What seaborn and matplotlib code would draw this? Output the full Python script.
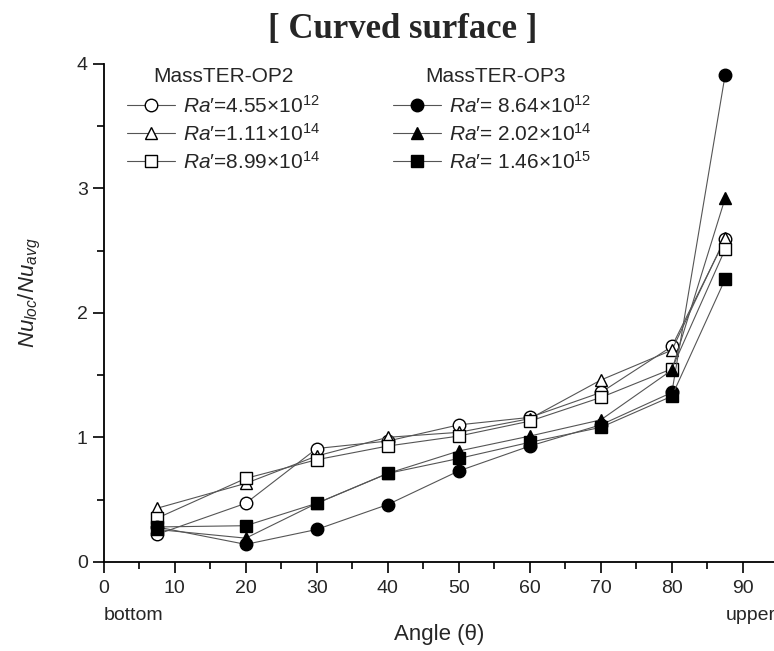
import numpy as np
import pandas as pd
import matplotlib
matplotlib.use("Agg")
import matplotlib.pyplot as plt
import seaborn as sns
from matplotlib.ticker import MultipleLocator

sns.set_style("ticks")
plt.rcParams['font.family'] = ['Liberation Sans', 'DejaVu Sans']
plt.rcParams['mathtext.fontset'] = 'custom'
plt.rcParams['mathtext.rm'] = 'Liberation Sans'
plt.rcParams['mathtext.it'] = 'Liberation Sans:italic'
plt.rcParams['mathtext.bf'] = 'Liberation Sans:bold'

# angle positions
angle = [7.5, 20, 30, 40, 50, 60, 70, 80, 87.5]

# MassTER-OP2
op2_c = [0.22, 0.47, 0.91, 0.97, 1.10, 1.16, 1.36, 1.73, 2.59]
op2_t = [0.43, 0.63, 0.85, 1.00, 1.04, 1.15, 1.46, 1.70, 2.60]
op2_s = [0.35, 0.67, 0.82, 0.93, 1.01, 1.13, 1.32, 1.55, 2.51]
# MassTER-OP3
op3_c = [0.28, 0.14, 0.26, 0.46, 0.73, 0.93, 1.10, 1.36, 3.91]
op3_t = [0.26, 0.19, 0.47, 0.71, 0.89, 1.01, 1.14, 1.54, 2.92]
op3_s = [0.28, 0.29, 0.47, 0.71, 0.83, 0.96, 1.08, 1.33, 2.27]

labels_op2 = [r"$Ra$′=4.55$\times$10$^{12}$", r"$Ra$′=1.11$\times$10$^{14}$", r"$Ra$′=8.99$\times$10$^{14}$"]
labels_op3 = [r"$Ra$′= 8.64$\times$10$^{12}$", r"$Ra$′= 2.02$\times$10$^{14}$", r"$Ra$′= 1.46$\times$10$^{15}$"]

fig = plt.figure(figsize=(7.74, 6.51), dpi=100)
ax = fig.add_axes([0.134, 0.137, 0.868, 0.765])

series = [
    (op2_c, 'o', 'white', labels_op2[0]),
    (op2_t, '^', 'white', labels_op2[1]),
    (op2_s, 's', 'white', labels_op2[2]),
    (op3_c, 'o', 'black', labels_op3[0]),
    (op3_t, '^', 'black', labels_op3[1]),
    (op3_s, 's', 'black', labels_op3[2]),
]
handles = []
for vals, mk, fc, lab in series:
    df = pd.DataFrame({'angle': angle, 'nu': vals})
    sns.lineplot(data=df, x='angle', y='nu', ax=ax, color='#555555', lw=0.8,
                 marker=mk, markersize=9, markerfacecolor=fc,
                 markeredgecolor='black', markeredgewidth=1.0, label=lab)
    handles.append(ax.lines[-1])

ax.set_xlim(0, 94.6)
ax.set_ylim(0, 4)
ax.xaxis.set_major_locator(MultipleLocator(10))
ax.xaxis.set_minor_locator(MultipleLocator(5))
ax.yaxis.set_major_locator(MultipleLocator(1))
ax.yaxis.set_minor_locator(MultipleLocator(0.5))
ax.tick_params(which='major', direction='out', length=8, width=1.2, labelsize=14, color='black')
ax.tick_params(which='minor', direction='out', length=5, width=1.2, color='black')
ax.tick_params(axis='x', pad=5)
sns.despine(ax=ax)
for sp in ['left', 'bottom']:
    ax.spines[sp].set_linewidth(1.3)
    ax.spines[sp].set_color('black')

ax.set_xlabel("Angle (θ)", fontsize=16)
ax.xaxis.set_label_coords(0.5, -0.125)
ax.set_ylabel(r"$Nu_{loc}$/$Nu_{avg}$", fontsize=16)
ax.yaxis.set_label_coords(-0.09, 0.54)
ax.text(0, -0.09, "bottom", transform=ax.transAxes, fontsize=14, ha='left', va='top')
ax.text(1.0, -0.09, "upper", transform=ax.transAxes, fontsize=14, ha='right', va='top')

fig.text(0.52, 0.955, "[ Curved surface ]", fontsize=25, fontweight='bold',
         family='Liberation Serif', ha='center', va='center')

if ax.legend_:
    ax.legend_.remove()
leg_kw = dict(loc='upper left', frameon=False, fontsize=15, handlelength=2.3,
              handletextpad=0.4, labelspacing=0.3, borderaxespad=0.0)
leg1 = ax.legend(handles=handles[:3], labels=labels_op2,
                 bbox_to_anchor=(0.022, 0.955), **leg_kw)
ax.add_artist(leg1)
ax.legend(handles=handles[3:], labels=labels_op3,
          bbox_to_anchor=(0.418, 0.955), **leg_kw)
ax.text(0.073, 0.974, "MassTER-OP2", transform=ax.transAxes, fontsize=15, va='center')
ax.text(0.478, 0.974, "MassTER-OP3", transform=ax.transAxes, fontsize=15, va='center')

fig.savefig("out.png", dpi=100)
